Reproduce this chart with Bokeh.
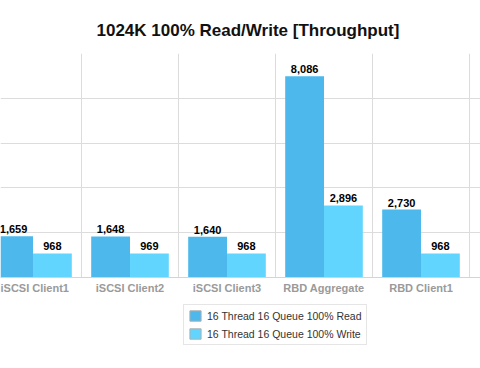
from bokeh.plotting import figure
from bokeh.layouts import column
from bokeh.models import Range1d, FixedTicker, ColumnDataSource, Legend, LegendItem
from bokeh.transform import dodge
from bokeh.embed import file_html
from bokeh.resources import INLINE
from bokeh.core.properties import value

categories = ["iSCSI Client1", "iSCSI Client2", "iSCSI Client3", "RBD Aggregate", "RBD Client1"]
read_values = [1659, 1648, 1640, 8086, 2730]
write_values = [968, 969, 968, 2896, 968]
series_names = ["16 Thread 16 Queue 100% Read", "16 Thread 16 Queue 100% Write"]
y_ticks = [0, 1800, 3600, 5400, 7200, 9000]

READ_COLOR = "#4db8ec"
WRITE_COLOR = "#61d5fd"
FONT = "Liberation Sans"

centers = [i + 0.5 for i in range(len(categories))]
src = ColumnDataSource(dict(
    x=centers,
    read=read_values,
    write=write_values,
    read_lbl=[f"{v:,}" for v in read_values],
    write_lbl=[f"{v:,}" for v in write_values],
))

p = figure(width=480, height=300, output_backend="svg", toolbar_location=None,
           x_range=Range1d(0.165, 5.1134), y_range=Range1d(0, 9000),
           min_border_left=0, min_border_right=0,
           min_border_top=53, min_border_bottom=23)

p.vbar(x=dodge("x", -0.2), top="read", width=0.4, source=src,
       fill_color=READ_COLOR, line_color=None)
p.vbar(x=dodge("x", 0.2), top="write", width=0.4, source=src,
       fill_color=WRITE_COLOR, line_color=None)

for col, lbl, off in (("read", "read_lbl", -0.2), ("write", "write_lbl", 0.2)):
    p.text(x=dodge("x", off), y=col, text=lbl, source=src,
           text_align="center", text_baseline="alphabetic", y_offset=-7,
           text_font=value(FONT), text_font_style="bold",
           text_font_size="11px", text_color="#000000")

p.title.text = "1024K 100% Read/Write [Throughput]"
p.title.align = "left"
p.title.offset = 96
p.title.standoff = 28
p.title.text_font = FONT
p.title.text_font_style = "bold"
p.title.text_font_size = "17px"
p.title.text_color = "#111111"

p.yaxis.visible = False
p.xaxis.ticker = FixedTicker(ticks=centers)
p.xaxis.major_label_overrides = {c: n for c, n in zip(centers, categories)}
p.xaxis.major_tick_line_color = None
p.xaxis.major_tick_out = 0
p.xaxis.major_tick_in = 0
p.xaxis.minor_tick_line_color = None
p.xaxis.axis_line_color = "#d4d4d4"
p.xaxis.major_label_text_color = "#9a9a9a"
p.xaxis.major_label_text_font = FONT
p.xaxis.major_label_text_font_style = "bold"
p.xaxis.major_label_text_font_size = "11px"
p.xaxis.major_label_standoff = 4

p.xgrid.ticker = FixedTicker(ticks=list(range(len(categories) + 1)))
p.ygrid.ticker = FixedTicker(ticks=y_ticks)
p.xgrid.grid_line_color = "#dcdcdc"
p.ygrid.grid_line_color = "#dcdcdc"
p.outline_line_color = None

# legend strip below the chart; its bars share the data but lie outside the
# strip's ranges, so only the legend swatches show
q = figure(width=480, height=68, output_backend="svg", toolbar_location=None,
           x_range=Range1d(-20, -19), y_range=Range1d(-2, -1),
           x_axis_type=None, y_axis_type=None,
           min_border_left=0, min_border_right=0, min_border_top=0, min_border_bottom=0)
q.outline_line_color = None
lr = q.vbar(x=dodge("x", -0.2), top="read", width=0.4, source=src,
            fill_color=READ_COLOR, line_color="#b0b0b0")
lw = q.vbar(x=dodge("x", 0.2), top="write", width=0.4, source=src,
            fill_color=WRITE_COLOR, line_color="#b0b0b0")

legend = Legend(items=[LegendItem(label=series_names[0], renderers=[lr]),
                       LegendItem(label=series_names[1], renderers=[lw])],
                location=(183, 23))
legend.border_line_color = "#cccccc"
legend.background_fill_color = "#ffffff"
legend.padding = 4
legend.spacing = 5
legend.margin = 0
legend.label_height = 13
legend.glyph_height = 13
legend.glyph_width = 14
legend.label_standoff = 5
legend.label_text_font = FONT
legend.label_text_font_size = "10.5px"
legend.label_text_color = "#333333"
q.add_layout(legend)

layout = column(p, q, spacing=0)
open("out.html", "w").write(file_html(layout, INLINE))
